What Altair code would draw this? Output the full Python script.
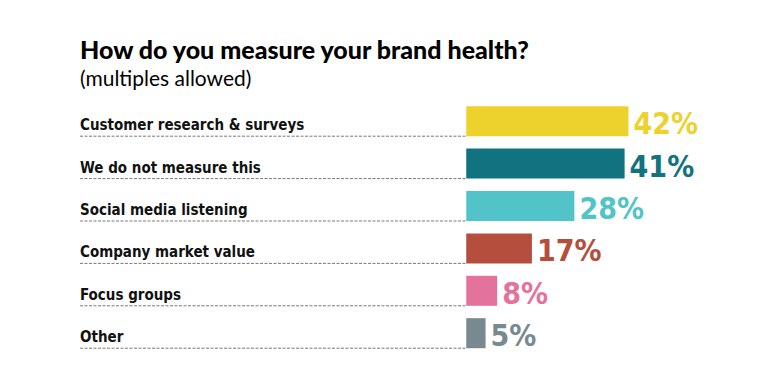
import altair as alt
import pandas as pd

categories = [
    "Customer research & surveys",
    "We do not measure this",
    "Social media listening",
    "Company market value",
    "Focus groups",
    "Other",
]
values = [42, 41, 28, 17, 8, 5]
labels = ["42%", "41%", "28%", "17%", "8%", "5%"]
colors = ["#EDD22D", "#10737F", "#52C4C9", "#B54E3C", "#E4739C", "#788A90"]

df = pd.DataFrame({"cat": categories, "val": values, "lab": labels, "col": colors})
df["start"] = -100
df["zero"] = 0

COND = "'DejaVu Sans Condensed', 'Roboto Condensed', 'Arial Narrow', Roboto, sans-serif"

yscale = alt.Scale(domain=categories, paddingInner=0.292, paddingOuter=0.146)
xscale = alt.Scale(domain=[-100, 60], nice=False, zero=False)

base = alt.Chart(df)

bars = base.mark_bar().encode(
    x=alt.X("zero:Q", scale=xscale, axis=None),
    x2="val:Q",
    y=alt.Y("cat:N", scale=yscale, axis=None),
    color=alt.Color("col:N", scale=None),
)

vals = base.mark_text(
    align="left", baseline="alphabetic", dx=5, dy=13,
    font=COND, fontWeight="bold", fontSize=30,
).encode(
    x=alt.X("val:Q", scale=xscale, axis=None),
    y=alt.Y("cat:N", scale=yscale, axis=None),
    text="lab:N",
    color=alt.Color("col:N", scale=None),
)

cats = base.mark_text(
    align="left", baseline="alphabetic", dy=9,
    font=COND, fontWeight="bold", fontSize=15, color="#111111",
).encode(
    x=alt.X("start:Q", scale=xscale, axis=None),
    y=alt.Y("cat:N", scale=yscale, axis=None),
    text="cat:N",
)

rules = base.mark_rule(color="#777777", strokeWidth=1, strokeDash=[3, 1.5], yOffset=15).encode(
    x=alt.X("start:Q", scale=xscale, axis=None),
    x2="zero:Q",
    y=alt.Y("cat:N", scale=yscale, axis=None),
)

chart = alt.layer(rules, bars, vals, cats).properties(
    width=618,
    height=254.4,
    padding={"left": 71, "top": 31, "right": 10, "bottom": 10},
    title=alt.Title(
        "How do you measure your brand health?",
        subtitle="(multiples allowed)",
        anchor="start",
        frame="group",
        font="Lato",
        fontSize=25,
        fontWeight=900,
        color="#000000",
        subtitleFont="Lato",
        subtitleFontSize=21,
        subtitleColor="#000000",
        subtitlePadding=5,
        offset=10,
    ),
).configure_view(stroke=None)

chart.save("out.html", embed_options={"renderer": "svg", "actions": False})
